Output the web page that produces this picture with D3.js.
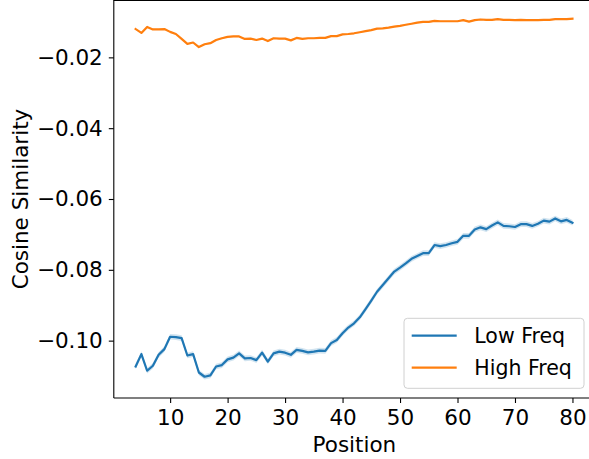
<!DOCTYPE html>
<html>
<head>
<meta charset="utf-8">
<script src="https://cdn.jsdelivr.net/npm/d3@7"></script>
<style>
  html, body { margin: 0; padding: 0; background: #fff; }
  svg { display: block; }
  text { font-family: "DejaVu Sans", sans-serif; fill: #000; }
</style>
</head>
<body>
<svg id="chart" width="589" height="459"></svg>
<script>
// ---- data ----
const positions = d3.range(4, 81); // 4..80
const lowFreq = [
  -0.1073, -0.1038, -0.1085, -0.1071, -0.1040, -0.1024, -0.0989, -0.0990, -0.0993, -0.1042,
  -0.1038, -0.1090, -0.1102, -0.1098, -0.1073, -0.1069, -0.1053, -0.1048, -0.1036, -0.1050,
  -0.1049, -0.1055, -0.1034, -0.1059, -0.1036, -0.1031, -0.1034, -0.1040, -0.1026, -0.1029,
  -0.1033, -0.1031, -0.1028, -0.1029, -0.1007, -0.0998, -0.0979, -0.0963, -0.0951, -0.0934,
  -0.0911, -0.0887, -0.0862, -0.0843, -0.0824, -0.0805, -0.0794, -0.0782, -0.0769, -0.0761,
  -0.0753, -0.0753, -0.0730, -0.0733, -0.0730, -0.0725, -0.0721, -0.0704, -0.0704, -0.0686,
  -0.0680, -0.0685, -0.0675, -0.0666, -0.0676, -0.0677, -0.0679, -0.0671, -0.0671, -0.0676,
  -0.0670, -0.0661, -0.0664, -0.0655, -0.0663, -0.0659, -0.0667
];
const highFreq = [
  -0.0120, -0.0131, -0.0114, -0.0121, -0.0121, -0.0120, -0.0128, -0.0134, -0.0148, -0.0162,
  -0.0158, -0.0171, -0.0163, -0.0160, -0.0151, -0.0146, -0.0142, -0.0141, -0.0141, -0.0148,
  -0.0147, -0.0151, -0.0147, -0.0154, -0.0146, -0.0147, -0.0147, -0.0152, -0.0145, -0.0148,
  -0.0146, -0.0146, -0.0145, -0.0145, -0.0140, -0.0140, -0.0135, -0.0134, -0.0132, -0.0129,
  -0.0126, -0.0123, -0.0119, -0.0118, -0.0116, -0.0113, -0.0111, -0.0108, -0.0105, -0.0102,
  -0.0100, -0.0100, -0.0097, -0.0098, -0.0098, -0.0098, -0.0098, -0.0095, -0.0099, -0.0095,
  -0.0093, -0.0094, -0.0094, -0.0092, -0.0094, -0.0094, -0.0095, -0.0094, -0.0095, -0.0095,
  -0.0095, -0.0094, -0.0094, -0.0092, -0.0092, -0.0092, -0.0091
];
const lowFreqCI = 0.0008;   // half-width of shaded band
const highFreqCI = 0.0002;
const seriesNames = ["Low Freq", "High Freq"];
const seriesColors = ["#1f77b4", "#ff7f0e"];
const xTicks = [10, 20, 30, 40, 50, 60, 70, 80];
const yTicks = [-0.10, -0.08, -0.06, -0.04, -0.02];
const xLabel = "Position";
const yLabel = "Cosine Similarity";

// ---- layout ----
const svg = d3.select("#chart");
const plot = { left: 113.8, right: 594.3, top: 0, bottom: 398 };
const x = d3.scaleLinear().domain([0.2, 83.8]).range([plot.left, plot.right]);
const y = d3.scaleLinear().domain([-0.1162, -0.0038]).range([plot.bottom, plot.top]);
const fs = 21.5;

svg.append("defs").append("clipPath").attr("id", "clip")
  .append("rect").attr("x", plot.left).attr("y", plot.top)
  .attr("width", plot.right - plot.left).attr("height", plot.bottom - plot.top);

const series = [
  { name: seriesNames[0], color: seriesColors[0], vals: lowFreq, ci: lowFreqCI },
  { name: seriesNames[1], color: seriesColors[1], vals: highFreq, ci: highFreqCI }
];

const g = svg.append("g").attr("clip-path", "url(#clip)");
series.forEach(s => {
  const pts = positions.map((p, i) => ({ p, v: s.vals[i] }));
  g.append("path")
    .datum(pts)
    .attr("fill", s.color).attr("fill-opacity", 0.2).attr("stroke", "none")
    .attr("d", d3.area().x(d => x(d.p)).y0(d => y(d.v - s.ci)).y1(d => y(d.v + s.ci)));
  g.append("path")
    .datum(pts)
    .attr("fill", "none").attr("stroke", s.color).attr("stroke-width", 2.2)
    .attr("stroke-linejoin", "round").attr("stroke-linecap", "square")
    .attr("d", d3.line().x(d => x(d.p)).y(d => y(d.v)));
});

// axes
const fmt = d3.format(".2f");
const xAxis = svg.append("g").attr("transform", `translate(0,${plot.bottom})`)
  .call(d3.axisBottom(x).tickValues(xTicks).tickSize(5).tickPadding(7).tickFormat(d3.format("d")));
const yAxis = svg.append("g").attr("transform", `translate(${plot.left},0)`)
  .call(d3.axisLeft(y).tickValues(yTicks).tickSize(5).tickPadding(6).tickFormat(fmt));
[xAxis, yAxis].forEach(a => {
  a.select(".domain").remove();
  a.selectAll(".tick line").attr("stroke", "#000").attr("stroke-width", 1.1);
  a.selectAll(".tick text").attr("font-size", fs).attr("font-family", "DejaVu Sans").attr("fill", "#000");
});

// spines
svg.append("line").attr("x1", plot.left).attr("x2", plot.left).attr("y1", plot.top).attr("y2", plot.bottom)
  .attr("stroke", "#000").attr("stroke-width", 1.1);
svg.append("line").attr("x1", plot.left).attr("x2", 589).attr("y1", plot.bottom).attr("y2", plot.bottom)
  .attr("stroke", "#000").attr("stroke-width", 1.1);
svg.append("line").attr("x1", plot.left).attr("x2", 589).attr("y1", 0.5).attr("y2", 0.5)
  .attr("stroke", "#000").attr("stroke-width", 1.1);

// axis labels
svg.append("text").attr("x", (plot.left + 589) / 2 + 3).attr("y", 451.5)
  .attr("text-anchor", "middle").attr("font-size", fs).text(xLabel);
svg.append("text").attr("transform", "translate(28.3,199) rotate(-90)")
  .attr("text-anchor", "middle").attr("font-size", fs).text(yLabel);

// legend
const lg = svg.append("g");
lg.append("rect").attr("x", 404).attr("y", 318.3).attr("width", 180).attr("height", 70)
  .attr("rx", 3.5).attr("fill", "#fff").attr("fill-opacity", 0.8)
  .attr("stroke", "#d0d0d0").attr("stroke-width", 1);
series.forEach((s, i) => {
  const yy = 335.7 + i * 32;
  lg.append("line").attr("x1", 411.7).attr("x2", 456.7).attr("y1", yy).attr("y2", yy)
    .attr("stroke", s.color).attr("stroke-width", 2.2);
  lg.append("text").attr("x", 474.3).attr("y", yy + 7.6).attr("font-size", 20.5).text(s.name);
});
</script>
</body>
</html>
